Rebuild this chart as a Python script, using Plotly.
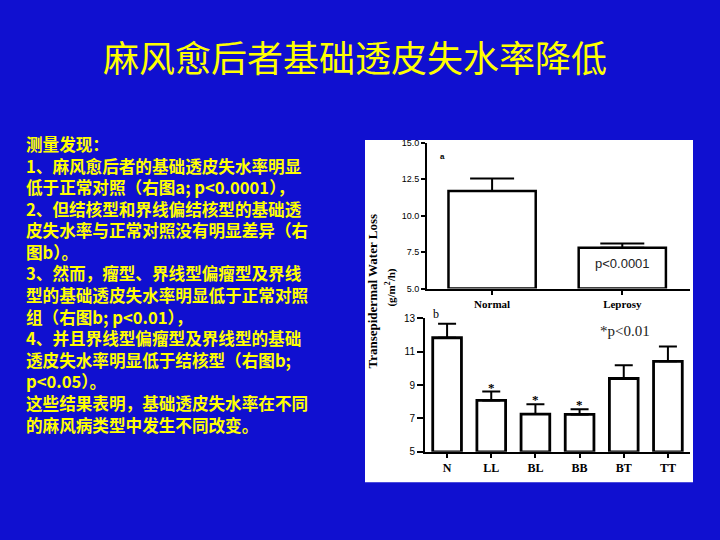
import plotly.graph_objects as go

# ---- data ----
cats_a = ["Normal", "Leprosy"]
vals_a = [11.7, 7.8]
err_a = [0.85, 0.3]

cats_b = ["N", "LL", "BL", "BB", "BT", "TT"]
vals_b = [11.83, 8.08, 7.26, 7.24, 9.39, 10.42]
err_b = [0.84, 0.53, 0.59, 0.31, 0.80, 0.88]
stars_b = ["", "*", "*", "*", "", ""]

yticks_a = [5.0, 7.5, 10.0, 12.5, 15.0]
yticks_b = [5, 7, 9, 11, 13]

title = "麻风愈后者基础透皮失水率降低"
body_lines = [
    "测量发现：",
    "1、麻风愈后者的基础透皮失水率明显",
    "低于正常对照（右图a; p<0.0001），",
    "2、但结核型和界线偏结核型的基础透",
    "皮失水率与正常对照没有明显差异（右",
    "图b）。",
    "3、然而，瘤型、界线型偏瘤型及界线",
    "型的基础透皮失水率明显低于正常对照",
    "组（右图b; p<0.01），",
    "4、并且界线型偏瘤型及界线型的基础",
    "透皮失水率明显低于结核型（右图b;",
    "p<0.05）。",
    "这些结果表明，基础透皮失水率在不同",
    "的麻风病类型中发生不同改变。",
]

W, H = 720, 540
BLUE = "#1010D0"
YEL = "#FFFF00"
CJK = "Noto Sans CJK SC"
SERIF = "Liberation Serif"
SANS = "Liberation Sans"

def px(x):
    return x / W

def py(y):
    return 1 - y / H

fig = go.Figure()

fig.add_trace(go.Bar(
    x=cats_a, y=[v - 5.0 for v in vals_a], base=5.0,
    marker=dict(color="white", line=dict(color="black", width=2.5)),
    width=0.67,
    error_y=dict(type="data", array=err_a, arrayminus=[0] * len(err_a), symmetric=False,
                 color="black", thickness=2, width=22),
    xaxis="x", yaxis="y", showlegend=False, hoverinfo="skip",
))
fig.add_trace(go.Bar(
    x=cats_b, y=[v - 5.0 for v in vals_b], base=5.0,
    marker=dict(color="white", line=dict(color="black", width=2.8)),
    width=0.65,
    error_y=dict(type="data", array=err_b, arrayminus=[0] * len(err_b), symmetric=False,
                 color="black", thickness=2, width=9),
    xaxis="x2", yaxis="y2", showlegend=False, hoverinfo="skip",
))

axis_common = dict(showline=True, linecolor="black", linewidth=2, ticks="outside",
                   tickcolor="black", tickwidth=2, showgrid=False, zeroline=False,
                   fixedrange=True, tickprefix="<b>", ticksuffix="</b>")

fig.update_layout(
    width=W, height=H,
    margin=dict(l=0, r=0, t=0, b=0),
    paper_bgcolor=BLUE, plot_bgcolor="rgba(0,0,0,0)",
    xaxis=dict(domain=[px(427), px(690)], range=[-0.5, 1.52], anchor="y",
               ticklen=4, tickfont=dict(family=SERIF, size=11, color="black"), **axis_common),
    yaxis=dict(domain=[py(289), py(140)], range=[5, 15], anchor="x",
               tickvals=yticks_a, tickformat=".1f", ticklen=4,
               tickfont=dict(family=SANS, size=9, color="black"), **axis_common),
    xaxis2=dict(domain=[px(425), px(690)], range=[-0.5, 5.5], anchor="y2",
                ticklen=4, tickfont=dict(family=SERIF, size=12, color="black"), **axis_common),
    yaxis2=dict(domain=[py(456), py(319.3)], range=[5, 13], anchor="x2",
                tickvals=yticks_b, ticklen=6,
                tickfont=dict(family=SANS, size=10, color="black"), **axis_common),
    shapes=[dict(type="rect", xref="paper", yref="paper", x0=px(365), x1=px(693),
                 y0=py(487), y1=py(137), fillcolor="white", line=dict(width=0), layer="below")],
)

ann = []
ann.append(dict(text=title, x=px(355), y=py(51), xref="paper", yref="paper",
                showarrow=False, font=dict(family=CJK, size=36, color=YEL),
                xanchor="center", yanchor="middle"))
ann.append(dict(text="<b>" + "<br>".join(body_lines) + "</b>", x=px(24), y=py(127),
                xref="paper", yref="paper", showarrow=False, align="left",
                font=dict(family=CJK, size=16.6, color=YEL),
                xanchor="left", yanchor="top"))

# chart annotations
ann.append(dict(text="<b>a</b>", x=px(442), y=py(147), xref="paper", yref="paper", showarrow=False,
                font=dict(family=SANS, size=8, color="black")))
ann.append(dict(text="p<0.0001", x="Leprosy", y=6.7, xref="x", yref="y", showarrow=False,
                font=dict(family=SANS, size=13, color="#222")))
ann.append(dict(text="b", x=px(436), y=py(315), xref="paper", yref="paper", showarrow=False,
                font=dict(family=SERIF, size=12, color="black")))
ann.append(dict(text="*p<0.01", x=px(652), y=py(332), xref="paper", yref="paper", showarrow=False,
                font=dict(family=SERIF, size=15, color="#222")))
for c, v, e, s in zip(cats_b, vals_b, err_b, stars_b):
    if s:
        ann.append(dict(text="<b>" + s + "</b>", x=c, y=v + e, xref="x2", yref="y2", showarrow=False,
                        yanchor="bottom", yshift=-5, font=dict(family=SERIF, size=13, color="black")))
ann.append(dict(text="<b>Transepidermal Water Loss</b>", x=px(373), y=py(292), xref="paper", yref="paper",
                showarrow=False, textangle=-90, font=dict(family=SERIF, size=13, color="black")))
ann.append(dict(text="<b>(g/m<sup>2</sup>/h)</b>", x=px(391), y=py(288), xref="paper", yref="paper",
                showarrow=False, textangle=-90, font=dict(family=SERIF, size=11, color="black")))
fig.update_layout(annotations=ann)

fig.write_html("out.html", config={"displayModeBar": False, "staticPlot": True},
               post_script="document.body.style.margin='0';document.body.style.padding='0';"
                           "document.body.style.background='" + BLUE + "';")
